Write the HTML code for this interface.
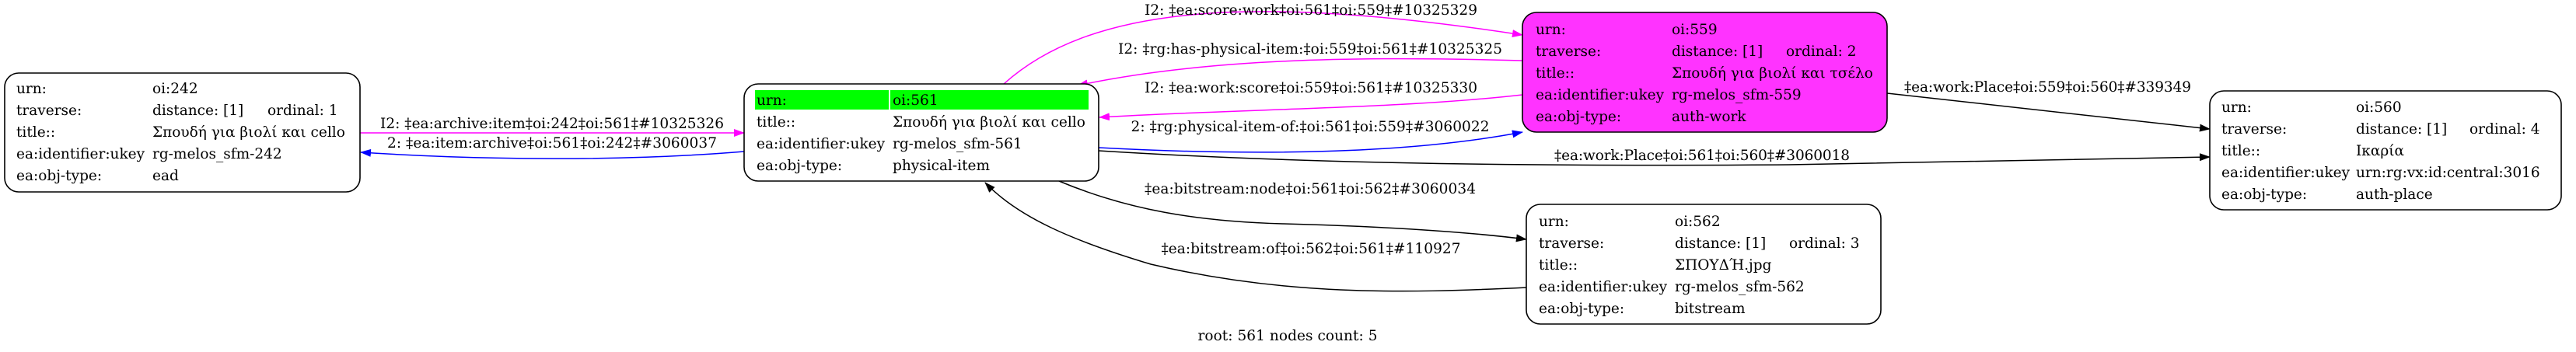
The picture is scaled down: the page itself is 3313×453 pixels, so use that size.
<!DOCTYPE html>
<html><head><meta charset="utf-8"><style>
html,body{margin:0;padding:0;background:#fff;}
svg{display:block;}
text{font-family:"DejaVu Serif","Liberation Serif",serif;font-size:18.5px;fill:#000;}
.e{font-size:18.5px;}
</style></head><body>
<svg width="3313" height="453" viewBox="0 0 3313 453" xmlns="http://www.w3.org/2000/svg">
<defs>
<marker id="am" markerWidth="14" markerHeight="10" refX="13" refY="5" orient="auto" markerUnits="userSpaceOnUse"><path d="M0,0 L14,5 L0,10z" fill="#ff00ff"/></marker>
<marker id="ab" markerWidth="14" markerHeight="10" refX="13" refY="5" orient="auto" markerUnits="userSpaceOnUse"><path d="M0,0 L14,5 L0,10z" fill="#0000ff"/></marker>
<marker id="ak" markerWidth="14" markerHeight="10" refX="13" refY="5" orient="auto" markerUnits="userSpaceOnUse"><path d="M0,0 L14,5 L0,10z" fill="#000"/></marker>
</defs>

<g fill="none" stroke-width="1.5">
<path d="M463,171 L957,171" stroke="#ff00ff" marker-end="url(#am)"/>
<path d="M957,195 C800,208 620,206 464,196" stroke="#0000ff" marker-end="url(#ab)"/>
<path d="M1291,108 C1400,10 1600,-10 1958,45" stroke="#ff00ff" marker-end="url(#am)"/>
<path d="M1958,78 C1750,72 1550,75 1386,110" stroke="#ff00ff" marker-end="url(#am)"/>
<path d="M1958,122 C1800,140 1600,140 1414,151" stroke="#ff00ff" marker-end="url(#am)"/>
<path d="M1413,190 C1600,200 1800,200 1958,170" stroke="#0000ff" marker-end="url(#ab)"/>
<path d="M1413,194 C1700,212 2000,214 2300,212 C2500,208 2700,204 2842,202" stroke="#000" marker-end="url(#ak)"/>
<path d="M2427,120 L2842,166" stroke="#000" marker-end="url(#ak)"/>
<path d="M1362,233 C1450,270 1540,285 1650,288 C1800,292 1900,300 1963,308" stroke="#000" marker-end="url(#ak)"/>
<path d="M1964,370 C1800,378 1650,380 1480,340 C1380,310 1310,280 1267,235" stroke="#000" marker-end="url(#ak)"/>
</g>

<g class="e" text-anchor="middle">
<text x="710" y="165" textLength="442">I2: ‡ea:archive:item‡oi:242‡oi:561‡#10325326</text>
<text x="710" y="190" textLength="424">2: ‡ea:item:archive‡oi:561‡oi:242‡#3060037</text>
<text x="1686" y="19" textLength="428">I2: ‡ea:score:work‡oi:561‡oi:559‡#10325329</text>
<text x="1685" y="69" textLength="494">I2: ‡rg:has-physical-item:‡oi:559‡oi:561‡#10325325</text>
<text x="1686" y="119" textLength="428">I2: ‡ea:work:score‡oi:559‡oi:561‡#10325330</text>
<text x="1685" y="169" textLength="461">2: ‡rg:physical-item-of:‡oi:561‡oi:559‡#3060022</text>
<text x="1685" y="249" textLength="426">‡ea:bitstream:node‡oi:561‡oi:562‡#3060034</text>
<text x="1686" y="326" textLength="385">‡ea:bitstream:of‡oi:562‡oi:561‡#110927</text>
<text x="1656" y="438" textLength="231">root: 561 nodes count: 5</text>
</g>
<g class="e">
<text x="1999" y="206" textLength="380">‡ea:work:Place‡oi:561‡oi:560‡#3060018</text>
<text x="2449" y="118" textLength="369">‡ea:work:Place‡oi:559‡oi:560‡#339349</text>
</g>

<rect x="6" y="94" width="457" height="153" rx="18" fill="#fff" stroke="#000" stroke-width="1.6"/>
<text x="21" y="120">urn:</text><text x="196" y="120">oi:242</text>
<text x="21" y="148">traverse:</text><text x="196" y="148">distance: [1]</text><text x="344" y="148">ordinal: 1</text>
<text x="21" y="176">title::</text><text x="196" y="176">Σπουδή για βιολί και cello</text>
<text x="21" y="204">ea:identifier:ukey</text><text x="196" y="204">rg-melos_sfm-242</text>
<text x="21" y="232">ea:obj-type:</text><text x="196" y="232">ead</text>

<rect x="957" y="108" width="456" height="125" rx="18" fill="#fff" stroke="#000" stroke-width="1.6"/>
<rect x="971" y="116" width="172" height="25" fill="#00ff00"/>
<rect x="1145" y="116" width="255" height="25" fill="#00ff00"/>
<text x="973" y="135">urn:</text><text x="1148" y="135">oi:561</text>
<text x="973" y="163">title::</text><text x="1148" y="163">Σπουδή για βιολί και cello</text>
<text x="973" y="191">ea:identifier:ukey</text><text x="1148" y="191">rg-melos_sfm-561</text>
<text x="973" y="219">ea:obj-type:</text><text x="1148" y="219">physical-item</text>

<rect x="1958" y="16" width="469" height="154" rx="18" fill="#ff33ff" stroke="#000" stroke-width="1.6"/>
<text x="1975" y="44">urn:</text><text x="2150" y="44">oi:559</text>
<text x="1975" y="72">traverse:</text><text x="2150" y="72">distance: [1]</text><text x="2297" y="72">ordinal: 2</text>
<text x="1975" y="100">title::</text><text x="2150" y="100">Σπουδή για βιολί και τσέλο</text>
<text x="1975" y="128">ea:identifier:ukey</text><text x="2150" y="128">rg-melos_sfm-559</text>
<text x="1975" y="156">ea:obj-type:</text><text x="2150" y="156">auth-work</text>

<rect x="1963" y="263" width="456" height="154" rx="18" fill="#fff" stroke="#000" stroke-width="1.6"/>
<text x="1979" y="291">urn:</text><text x="2154" y="291">oi:562</text>
<text x="1979" y="319">traverse:</text><text x="2154" y="319">distance: [1]</text><text x="2301" y="319">ordinal: 3</text>
<text x="1979" y="347">title::</text><text x="2154" y="347">ΣΠΟΥΔΉ.jpg</text>
<text x="1979" y="375">ea:identifier:ukey</text><text x="2154" y="375">rg-melos_sfm-562</text>
<text x="1979" y="403">ea:obj-type:</text><text x="2154" y="403">bitstream</text>

<rect x="2842" y="117" width="452" height="153" rx="18" fill="#fff" stroke="#000" stroke-width="1.6"/>
<text x="2857" y="144">urn:</text><text x="3030" y="144">oi:560</text>
<text x="2857" y="172">traverse:</text><text x="3030" y="172">distance: [1]</text><text x="3176" y="172">ordinal: 4</text>
<text x="2857" y="200">title::</text><text x="3030" y="200">Ικαρία</text>
<text x="2857" y="228">ea:identifier:ukey</text><text x="3030" y="228">urn:rg:vx:id:central:3016</text>
<text x="2857" y="256">ea:obj-type:</text><text x="3030" y="256">auth-place</text>
</svg>
</body></html>
